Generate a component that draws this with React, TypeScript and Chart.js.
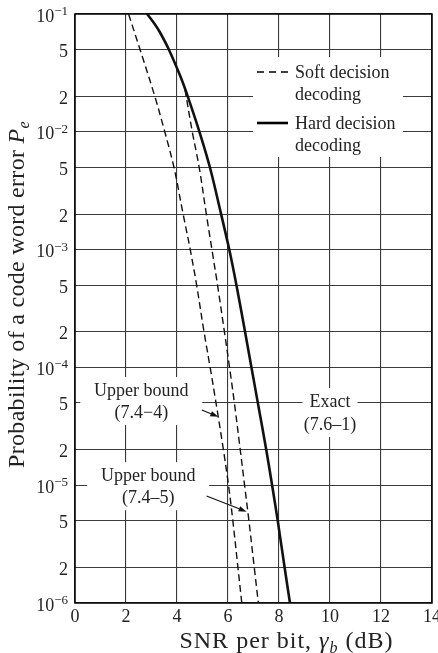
import React, { useEffect, useRef } from "react";
import { Chart, registerables } from "chart.js";

Chart.register(...registerables);

// ---- Axes ----
const xTickValues = [0, 2, 4, 6, 8, 10, 12, 14];
const xTickLabels = ["0", "2", "4", "6", "8", "10", "12", "14"];
const yTickValues = [1e-6, 2e-6, 5e-6, 1e-5, 2e-5, 5e-5, 1e-4, 2e-4, 5e-4, 1e-3, 2e-3, 5e-3, 1e-2, 2e-2, 5e-2, 1e-1];
const yTickLabels = ["10^−6", "2", "5", "10^−5", "2", "5", "10^−4", "2", "5", "10^−3", "2", "5", "10^−2", "2", "5", "10^−1"];

// ---- Series (SNR per bit in dB, probability of code word error) ----
const snrSoftBound4 = [2.1, 2.55, 3.13, 3.52, 3.88, 4.24, 4.52, 4.77, 5.06, 5.3, 5.53, 5.82, 6.02, 6.19, 6.39, 6.54];
const peSoftBound4 = [1e-1, 5e-2, 2e-2, 1e-2, 5e-3, 2e-3, 1e-3, 5e-4, 2e-4, 1e-4, 5e-5, 2e-5, 1e-5, 5e-6, 2e-6, 1e-6];

const snrSoftBound5 = [4.31, 4.6, 4.87, 5.15, 5.37, 5.59, 5.86, 6.06, 6.25, 6.48, 6.65, 6.82, 7.03, 7.19];
const peSoftBound5 = [2.3e-2, 1e-2, 5e-3, 2e-3, 1e-3, 5e-4, 2e-4, 1e-4, 5e-5, 2e-5, 1e-5, 5e-6, 2e-6, 1e-6];

const snrHardExact = [2.83, 3.13, 3.33, 3.68, 4.12, 4.42, 4.88, 5.29, 5.73, 6.05, 6.33, 6.67, 6.92, 7.17, 7.5, 7.73, 7.95, 8.22, 8.43];
const peHardExact = [1e-1, 8.2e-2, 7e-2, 5e-2, 3e-2, 2e-2, 1e-2, 5e-3, 2e-3, 1e-3, 5e-4, 2e-4, 1e-4, 5e-5, 2e-5, 1e-5, 5e-6, 2e-6, 1e-6];

// ---- Texts ----
const legendSoft = ["Soft decision", "decoding"];
const legendHard = ["Hard decision", "decoding"];
const xTitleParts = ["SNR per bit, ", "γ", "b", " (dB)"];
const yTitleParts = ["Probability of a code word error ", "P", "e"];

// annotations: anchor in data units
const annotations = [
  { x: 2.6, y: 5e-5, dy: -12.8, lines: ["Upper bound", "(7.4−4)"], halfW: 61, gap: 22 },
  { x: 2.87, y: 1e-5, dy: -10, lines: ["Upper bound", "(7.4–5)"], halfW: 61, gap: 22 },
  { x: 10, y: 5e-5, dy: -1.8, lines: ["Exact", "(7.6–1)"], halfW: 27.5, gap: 23 },
];
// arrows: [fromX, fromY, toX, toY] in data units
const arrows = [
  [4.97, 4.35e-5, 5.62, 3.81e-5],
  [5.16, 8.09e-6, 6.73, 5.96e-6],
];

const SERIF = '"Liberation Serif", "Times New Roman", serif';

function toPts(xs: number[], ys: number[]) {
  return xs.map((x, i) => ({ x, y: ys[i] }));
}

const overlayPlugin = {
  id: "overlay",
  beforeDatasetsDraw(chart: any) {
    const { ctx, chartArea: ca, scales } = chart;
    const xs = scales.x;
    const ys = scales.y;
    ctx.save();

    // white label boxes (mask grid lines)
    ctx.fillStyle = "#ffffff";
    for (const a of annotations) {
      const cx = xs.getPixelForValue(a.x);
      const cy = ys.getPixelForValue(a.y) + a.dy;
      const last = cy + a.gap * (a.lines.length - 1);
      ctx.fillRect(cx - a.halfW, cy - 13, a.halfW * 2, last - cy + 26);
    }
    const lg = { left: ca.left + 178, top: ca.top + 43, w: 150, h: 100 };
    ctx.fillRect(lg.left, lg.top, lg.w, lg.h);

    // frame
    ctx.strokeStyle = "#000";
    ctx.lineWidth = 1.5;
    ctx.strokeRect(ca.left, ca.top, ca.right - ca.left, ca.bottom - ca.top);

    // annotation text
    ctx.fillStyle = "#222";
    ctx.font = `18px ${SERIF}`;
    ctx.textAlign = "center";
    ctx.textBaseline = "alphabetic";
    for (const a of annotations) {
      const cx = xs.getPixelForValue(a.x);
      const cy = ys.getPixelForValue(a.y) + a.dy;
      a.lines.forEach((t, i) => ctx.fillText(t, cx, cy + i * a.gap + 6));
    }

    // legend
    ctx.textAlign = "left";
    const sx0 = lg.left + 4;
    const sx1 = lg.left + 35;
    const tx = lg.left + 42;
    const y1 = lg.top + 15;
    const y2 = lg.top + 66;
    ctx.strokeStyle = "#000";
    ctx.lineWidth = 1.4;
    ctx.setLineDash([7, 5]);
    ctx.beginPath();
    ctx.moveTo(sx0, y1);
    ctx.lineTo(sx1, y1);
    ctx.stroke();
    ctx.setLineDash([]);
    ctx.lineWidth = 2.6;
    ctx.beginPath();
    ctx.moveTo(sx0, y2);
    ctx.lineTo(sx1, y2);
    ctx.stroke();
    legendSoft.forEach((t, i) => ctx.fillText(t, tx, y1 + 6 + i * 21.5));
    legendHard.forEach((t, i) => ctx.fillText(t, tx, y2 + 6 + i * 21.5));

    // y tick labels
    ctx.textAlign = "right";
    const rx = ca.left - 7;
    yTickValues.forEach((v, i) => {
      const py = ys.getPixelForValue(v);
      const lab = yTickLabels[i];
      if (lab.includes("^")) {
        const [base, exp] = lab.split("^");
        ctx.font = `13px ${SERIF}`;
        const ew = ctx.measureText(exp).width;
        ctx.fillText(exp, rx, py + 1);
        ctx.font = `18px ${SERIF}`;
        ctx.fillText(base, rx - ew, py + 7.5);
      } else {
        ctx.font = `18px ${SERIF}`;
        ctx.fillText(lab, rx, py + 7.5);
      }
    });

    // x tick labels
    ctx.textAlign = "center";
    ctx.font = `18px ${SERIF}`;
    xTickValues.forEach((v, i) => {
      ctx.fillText(xTickLabels[i], xs.getPixelForValue(v), ca.bottom + 18.7);
    });

    // titles with italic symbol + subscript
    const FS = 24;
    const SUB = 16;
    const segs = (parts: string[]) => {
      const out: [string, string, number][] = [
        [parts[0], `${FS}px ${SERIF}`, 0],
        [parts[1], `italic ${FS}px ${SERIF}`, 0],
        [parts[2], `italic ${SUB}px ${SERIF}`, 5],
      ];
      if (parts[3]) out.push([parts[3], `${FS}px ${SERIF}`, 0]);
      return out;
    };
    const measure = (parts: string[], ls: number) => {
      ctx.letterSpacing = `${ls}px`;
      let w = 0;
      for (const [t, f] of segs(parts)) {
        ctx.font = f;
        w += ctx.measureText(t).width;
      }
      return w;
    };
    const draw = (parts: string[], startX: number, baseY: number, ls: number) => {
      ctx.letterSpacing = `${ls}px`;
      ctx.textAlign = "left";
      let x = startX;
      for (const [t, f, off] of segs(parts)) {
        ctx.font = f;
        ctx.fillText(t, x, baseY + off);
        x += ctx.measureText(t).width;
      }
    };

    const xLS = 1;
    const xw = measure(xTitleParts, xLS);
    const xCenter = (ca.left + ca.right) / 2 + 33;
    draw(xTitleParts, xCenter - xw / 2, ca.bottom + 45, xLS);

    const yLS = 0.3;
    const yw = measure(yTitleParts, yLS);
    ctx.save();
    ctx.translate(24, (ca.top + ca.bottom) / 2 - 14);
    ctx.rotate(-Math.PI / 2);
    draw(yTitleParts, -yw / 2, 0, yLS);
    ctx.restore();
    ctx.letterSpacing = "0px";

    ctx.restore();
  },
  afterDatasetsDraw(chart: any) {
    const { ctx, scales } = chart;
    const xs = scales.x;
    const ys = scales.y;
    ctx.save();
    ctx.strokeStyle = "#111";
    ctx.fillStyle = "#111";
    ctx.lineWidth = 1.1;
    for (const [fx, fy, tx, ty] of arrows) {
      const x0 = xs.getPixelForValue(fx);
      const y0 = ys.getPixelForValue(fy);
      const x1 = xs.getPixelForValue(tx);
      const y1 = ys.getPixelForValue(ty);
      const ang = Math.atan2(y1 - y0, x1 - x0);
      const hl = 8;
      const hw = 2.8;
      const bx = x1 - hl * Math.cos(ang);
      const by = y1 - hl * Math.sin(ang);
      ctx.beginPath();
      ctx.moveTo(x0, y0);
      ctx.lineTo(bx, by);
      ctx.stroke();
      ctx.beginPath();
      ctx.moveTo(x1, y1);
      ctx.lineTo(bx + hw * Math.sin(ang), by - hw * Math.cos(ang));
      ctx.lineTo(bx - hw * Math.sin(ang), by + hw * Math.cos(ang));
      ctx.closePath();
      ctx.fill();
    }
    ctx.restore();
  },
};

export default function App() {
  const ref = useRef<HTMLCanvasElement | null>(null);
  useEffect(() => {
    if (!ref.current) return;
    const dashed = {
      borderColor: "#111",
      borderWidth: 1.4,
      borderDash: [7, 4],
      showLine: true,
      pointRadius: 0,
      fill: false,
      tension: 0.35,
    };
    const chart = new Chart(ref.current, {
      type: "scatter",
      data: {
        datasets: [
          { label: "Upper bound (7.4−4)", data: toPts(snrSoftBound4, peSoftBound4), ...dashed },
          { label: "Upper bound (7.4–5)", data: toPts(snrSoftBound5, peSoftBound5), ...dashed },
          {
            label: "Exact (7.6–1)",
            data: toPts(snrHardExact, peHardExact),
            borderColor: "#111",
            borderWidth: 2.6,
            showLine: true,
            pointRadius: 0,
            fill: false,
            tension: 0.35,
          },
        ],
      },
      options: {
        responsive: false,
        animation: false,
        events: [],
        layout: { padding: { left: 0, right: 6, top: 14, bottom: 0 } },
        plugins: { legend: { display: false }, tooltip: { enabled: false } },
        scales: {
          x: {
            type: "linear",
            min: 0,
            max: 14,
            afterBuildTicks: (s: any) => {
              s.ticks = xTickValues.map((v) => ({ value: v }));
            },
            ticks: { display: false },
            grid: { color: "#3a3a3a", lineWidth: 1.1, drawTicks: false },
            border: { display: false },
            afterFit: (s: any) => {
              s.height = 50;
            },
          },
          y: {
            type: "logarithmic",
            min: 1e-6,
            max: 1e-1,
            afterBuildTicks: (s: any) => {
              s.ticks = yTickValues.map((v) => ({ value: v }));
            },
            ticks: { display: false },
            grid: { color: "#3a3a3a", lineWidth: 1.1, drawTicks: false },
            border: { display: false },
            afterFit: (s: any) => {
              s.width = 75;
            },
          },
        },
      },
      plugins: [overlayPlugin],
    } as any);
    return () => chart.destroy();
  }, []);
  return (
    <div style={{ position: "absolute", left: 0, top: 0, width: 438, height: 653, background: "#fff" }}>
      <canvas ref={ref} width={438} height={653} style={{ display: "block" }} />
    </div>
  );
}
